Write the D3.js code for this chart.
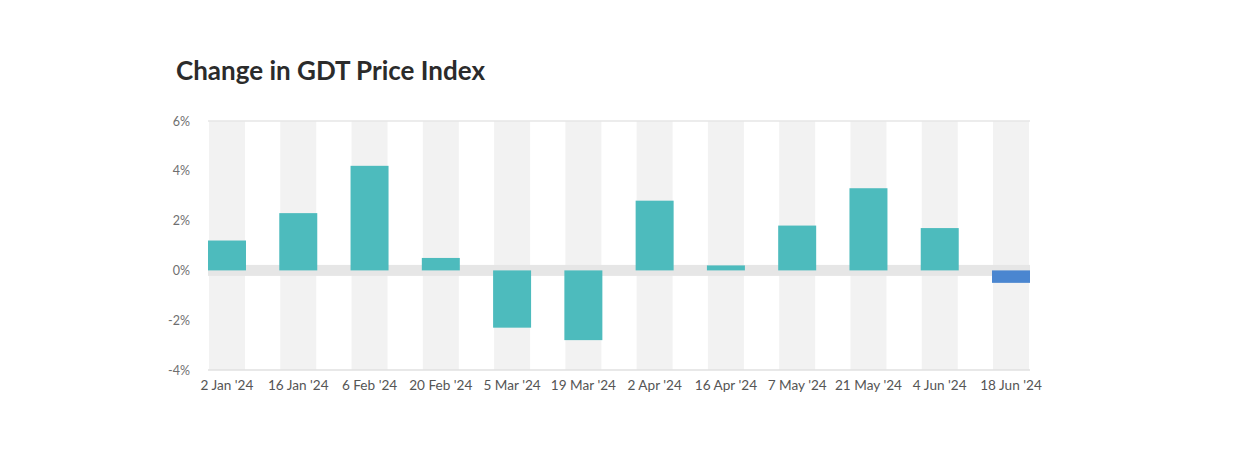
<!DOCTYPE html>
<html>
<head>
<meta charset="utf-8">
<script src="https://cdn.jsdelivr.net/npm/d3@7"></script>
<style>
  html, body { margin: 0; padding: 0; background: #fff; }
  svg { display: block; font-family: Lato, "Open Sans", sans-serif; }
</style>
</head>
<body>
<svg id="chart" width="1250" height="450"></svg>
<script>
const categories = ["2 Jan '24", "16 Jan '24", "6 Feb '24", "20 Feb '24", "5 Mar '24", "19 Mar '24",
                    "2 Apr '24", "16 Apr '24", "7 May '24", "21 May '24", "4 Jun '24", "18 Jun '24"];
const values = [1.2, 2.3, 4.2, 0.5, -2.3, -2.8, 2.8, 0.2, 1.8, 3.3, 1.7, -0.5];
const highlight = [false, false, false, false, false, false, false, false, false, false, false, true];
const yTicks = [-4, -2, 0, 2, 4, 6];
const title = "Change in GDT Price Index";

const svg = d3.select("#chart");
const plotLeft = 208, plotRight = 1030, plotTop = 121, plotBottom = 370;

const x = d3.scaleBand().domain(categories).range([plotLeft, plotRight]).paddingInner(0.467).paddingOuter(0);
const y = d3.scaleLinear().domain([-4, 6]).range([plotBottom, plotTop]);

svg.append("text").attr("x", 176).attr("y", 80)
  .attr("font-size", 26).attr("font-weight", 700).attr("fill", "#2b2b2b")
  .text(title);

// column background bands
svg.append("g").selectAll("rect").data(categories).join("rect")
  .attr("x", d => x(d) + 1).attr("width", x.bandwidth() - 2)
  .attr("y", plotTop).attr("height", plotBottom - plotTop)
  .attr("fill", "#f2f2f2");

// top line
svg.append("line").attr("x1", plotLeft).attr("x2", plotRight).attr("y1", y(6)).attr("y2", y(6))
  .attr("stroke", "#e6e6e6").attr("stroke-width", 1.5);
// bottom axis line
svg.append("line").attr("x1", plotLeft).attr("x2", plotRight).attr("y1", y(-4)).attr("y2", y(-4))
  .attr("stroke", "#e0e0e0").attr("stroke-width", 1.5);
// zero band
svg.append("rect").attr("x", plotLeft).attr("width", plotRight - plotLeft)
  .attr("y", y(0) - 5.5).attr("height", 11).attr("fill", "#e6e6e6");

// bars
svg.append("g").selectAll("rect").data(values).join("rect")
  .attr("x", (d, i) => x(categories[i]))
  .attr("width", x.bandwidth())
  .attr("y", d => y(Math.max(0, d)))
  .attr("height", d => Math.abs(y(d) - y(0)))
  .attr("fill", (d, i) => highlight[i] ? "#4a86d0" : "#4dbbbd");

// y axis labels
const yAxis = d3.axisLeft(y).tickValues(yTicks).tickSize(0).tickPadding(0).tickFormat(d => d + "%");
const ya = svg.append("g").attr("transform", `translate(190,0)`).call(yAxis);
ya.select(".domain").remove();
ya.selectAll("text").attr("font-size", 12.5).attr("fill", "#6f6f6f").attr("font-family", "Lato, sans-serif");

// x axis labels
const xAxis = d3.axisBottom(x).tickSize(0).tickPadding(0);
const xa = svg.append("g").attr("transform", `translate(0,${plotBottom + 10})`).call(xAxis);
xa.select(".domain").remove();
xa.selectAll("text").attr("font-size", 13.6).attr("fill", "#555").attr("font-family", "Lato, sans-serif");
</script>
</body>
</html>
